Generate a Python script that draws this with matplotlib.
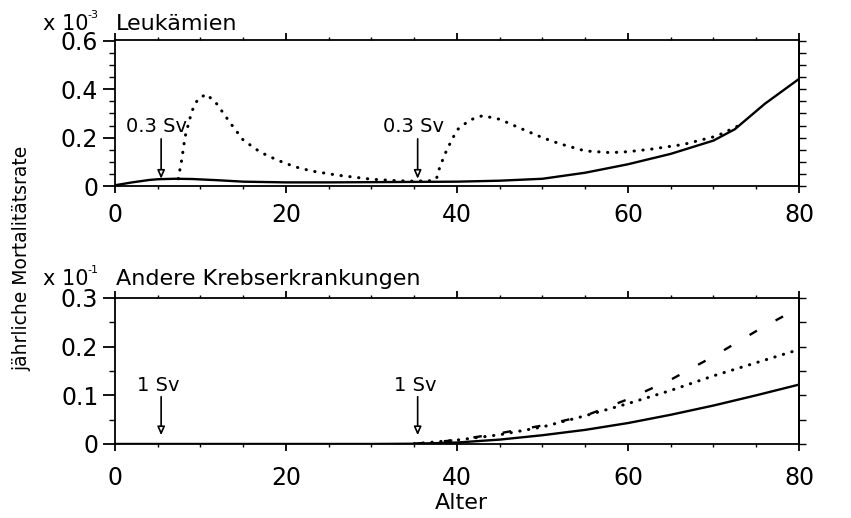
import matplotlib.pyplot as plt
import numpy as np
from matplotlib.ticker import MultipleLocator, FuncFormatter, NullFormatter

plt.rcParams['font.family'] = ['DejaVu Sans']

# Leukämien (x 10^-3), ohne / mit 0.3 Sv Exposition
leuk_alter = [0, 2, 4, 5, 7, 9, 12, 15, 20, 25, 30, 35, 40, 45, 50, 55, 60, 65, 70, 72.5, 76, 80]
leuk_basis = [0.003, 0.015, 0.025, 0.028, 0.03, 0.029, 0.024, 0.018, 0.015, 0.015, 0.016, 0.017,
              0.018, 0.022, 0.03, 0.055, 0.09, 0.133, 0.188, 0.235, 0.34, 0.443]
leuk_sv_alter = [7.4, 7.8, 8.2, 9, 9.7, 10.7, 11.9, 13.5, 15, 17, 19, 21, 23, 26, 30, 33, 35, 37,
                 37.6, 38, 38.8, 40, 41.5, 43, 45, 47.4, 50, 52, 55, 58, 60, 62.6, 66.5, 70.4, 73.5]
leuk_sv = [0.03, 0.107, 0.204, 0.31, 0.36, 0.38, 0.34, 0.26, 0.19, 0.14, 0.107, 0.08, 0.062, 0.045,
           0.028, 0.022, 0.02, 0.022, 0.03, 0.08, 0.149, 0.232, 0.273, 0.291, 0.276, 0.239, 0.2,
           0.175, 0.145, 0.138, 0.142, 0.152, 0.172, 0.207, 0.259]

# Andere Krebserkrankungen (x 10^-1)
krebs_alter = [0, 30, 35, 40, 45, 50, 55, 60, 65, 70, 75, 80]
krebs_basis = [0, 0, 0.0005, 0.003, 0.009, 0.018, 0.029, 0.043, 0.06, 0.079, 0.1, 0.122]
krebs_sv_alter = [35, 40, 45, 50, 55, 60, 65, 70, 75, 80]
krebs_sv_a = [0.0005, 0.008, 0.019, 0.035, 0.058, 0.083, 0.11, 0.14, 0.167, 0.194]   # gepunktet
krebs_sv_b = [0.0005, 0.008, 0.022, 0.038, 0.058, 0.092, 0.132, 0.18, 0.232, 0.28]   # gestrichelt

expo_alter = [5, 35]

fig = plt.figure(figsize=(8.51, 5.18), dpi=100)
ax1 = fig.add_axes([0.1351, 0.6409, 0.8038, 0.2819])
ax2 = fig.add_axes([0.1351, 0.1429, 0.8038, 0.2819])

fmt = FuncFormatter(lambda v, p: '0' if abs(v) < 1e-9 else '%.1f' % v)


def stil(ax, ymax, ymajor, xpad):
    ax.set_xlim(0, 80)
    ax.set_ylim(0, ymax)
    ax.xaxis.set_major_locator(MultipleLocator(20))
    ax.xaxis.set_minor_locator(MultipleLocator(5))
    ax.yaxis.set_major_locator(MultipleLocator(ymajor))
    ax.yaxis.set_minor_locator(MultipleLocator(0.05))
    ax.yaxis.set_major_formatter(fmt)
    for s in ax.spines.values():
        s.set_linewidth(1.3)
    ax.tick_params(axis='x', which='both', direction='out', top=True, labelsize=17, pad=xpad)
    ax.tick_params(axis='x', which='major', length=5, width=1.3)
    ax.tick_params(axis='x', which='minor', length=2.5, width=1)
    ax.tick_params(axis='y', which='major', length=9, width=1.3, labelsize=17, pad=3)
    ax.tick_params(axis='y', which='minor', length=4, width=1)
    sec = ax.secondary_yaxis('right')
    sec.set_yticks(np.arange(0, ymax + 1e-9, 0.05))
    sec.yaxis.set_major_formatter(NullFormatter())
    sec.tick_params(length=5, width=1)
    sec.spines['right'].set_linewidth(1.3)


stil(ax1, 0.604, 0.2, 7)
stil(ax2, 0.3, 0.1, 11)

dots = dict(color='black', lw=2.2, linestyle=(0, (0.1, 2.8)), dash_capstyle='round')
pfeil = dict(arrowstyle='-|>,head_length=0.5,head_width=0.22', fc='white', ec='black',
             lw=1.2, shrinkA=0, shrinkB=0)

ax1.plot(leuk_alter, leuk_basis, color='black', lw=1.7)
ax1.plot(leuk_sv_alter, leuk_sv, **dots)
for a in expo_alter:
    ax1.annotate('', xy=(a + 0.4, 0.03), xytext=(a + 0.4, 0.195), arrowprops=pfeil)
    ax1.text(a - 0.1, 0.245, '0.3 Sv', ha='center', va='center', fontsize=14)

ax2.plot(krebs_alter, krebs_basis, color='black', lw=1.7)
ax2.plot(krebs_sv_alter, krebs_sv_a, **dots)
ax2.plot(krebs_sv_alter, krebs_sv_b, color='black', lw=1.7, linestyle=(0, (3.6, 9.0)))
for a in expo_alter:
    ax2.annotate('', xy=(a + 0.4, 0.018), xytext=(a + 0.4, 0.097), arrowprops=pfeil)
    ax2.text(a + 0.1, 0.121, '1 Sv', ha='center', va='center', fontsize=14)

W, H = 851, 518
for base, expo, titel in [(30, '-3', 'Leukämien'), (285, '-1', 'Andere Krebserkrankungen')]:
    fig.text(43 / W, 1 - base / H, 'x 10', fontsize=15, va='baseline')
    fig.text(87 / W, 1 - (base - 12) / H, expo, fontsize=8, va='baseline')
    fig.text(116 / W, 1 - base / H, titel, fontsize=16, va='baseline')

fig.text(22 / W, 1 - 258 / H, 'jährliche Mortalitätsrate', rotation=90,
         ha='center', va='center', fontsize=13.5)
fig.text(461 / W, 1 - 503 / H, 'Alter', ha='center', va='center', fontsize=16)

fig.savefig('out.png', dpi=100)
